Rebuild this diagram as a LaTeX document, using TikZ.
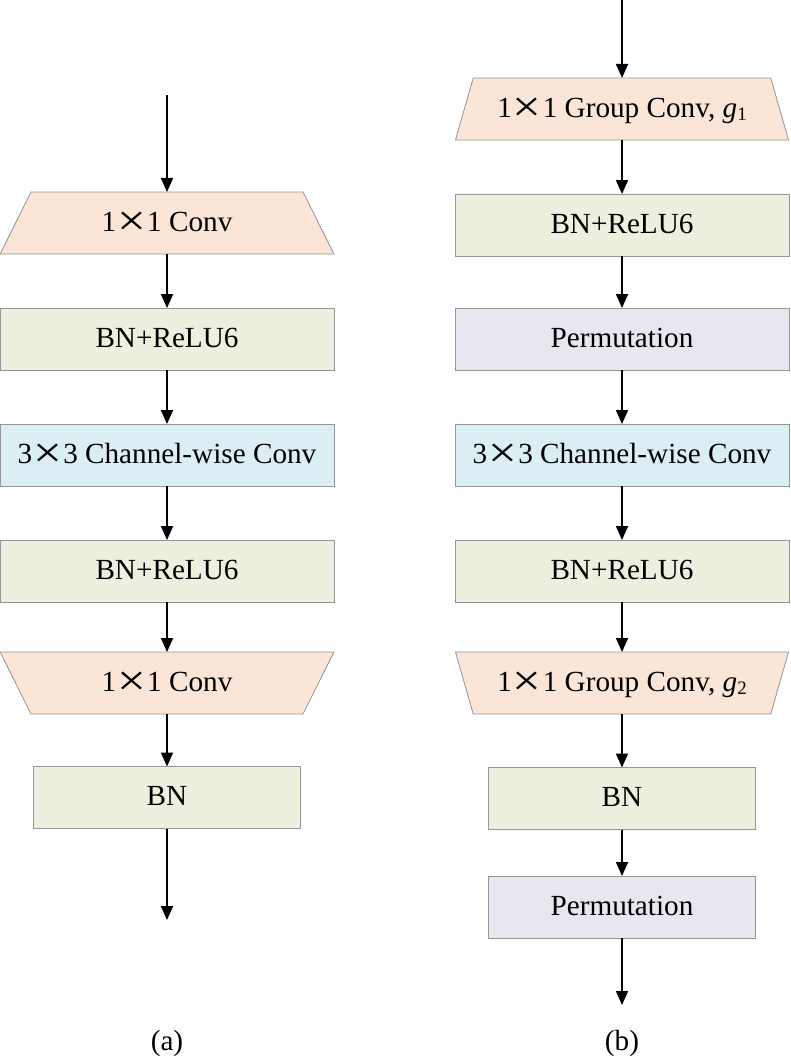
\documentclass[tikz,border=0pt]{standalone}
\usepackage{graphicx}
\usepackage{fontspec}
\setmainfont{Liberation Serif}
\usetikzlibrary{shapes.geometric,arrows.meta}
\definecolor{peach}{RGB}{251,229,214}
\definecolor{lgreen}{RGB}{235,241,222}
\definecolor{lblue}{RGB}{218,238,243}
\definecolor{lpurple}{RGB}{233,230,240}
\definecolor{bordergray}{RGB}{150,150,150}
\newcommand{\gsub}[1]{\textit{g}\raisebox{-0.28ex}{\fontsize{19}{20}\selectfont #1}}
\newcommand{\tms}{\makebox[31pt]{\smash{\raisebox{-4.5pt}{\scalebox{1.75}[1.5]{×}}}}}
\begin{document}
\begin{tikzpicture}[x=1pt,y=-1pt,
  every node/.style={font=\fontsize{29.2}{34}\selectfont, inner sep=0pt, outer sep=0pt,
     text height=22pt, text depth=6pt},
  blk/.style={draw=bordergray, line width=0.8pt, minimum height=62pt},
  wide/.style={blk, minimum width=334pt},
  narrow/.style={blk, minimum width=267pt},
  trap/.style={draw=bordergray, line width=0.8pt, fill=peach, trapezium, trapezium stretches=true,
     trapezium angle=62, minimum width=334pt, minimum height=62pt},
  trapinv/.style={trap, shape border rotate=180},
  arr/.style={line width=1.8pt, -{Triangle[length=14pt,width=12pt]}}
]
\useasboundingbox (0,0) rectangle (790,1060);
% left column
\coordinate (La) at (167,95);
\node[trap] (L1) at (167,223) {1\tms1 Conv};
\node[wide, fill=lgreen] (L2) at (167,339) {BN+ReLU6};
\node[wide, fill=lblue] (L3) at (167,455) {3\tms3 Channel-wise Conv};
\node[wide, fill=lgreen] (L4) at (167,571) {BN+ReLU6};
\node[trapinv] (L5) at (167,683) {1\tms1 Conv};
\node[narrow, fill=lgreen] (L6) at (167,797.5) {BN};
\coordinate (Lz) at (167,920);
\draw[arr] (La) -- (L1.north);
\draw[arr] (L1.south) -- (L2.north);
\draw[arr] (L2.south) -- (L3.north);
\draw[arr] (L3.south) -- (L4.north);
\draw[arr] (L4.south) -- (L5.north);
\draw[arr] (L5.south) -- (L6.north);
\draw[arr] (L6.south) -- (Lz);
\node (la) at (167,1042) {(a)};
% right column
\coordinate (Ra) at (622,0);
\node[trap] (R1) at (622,109) {1\tms1 Group Conv, \gsub{1}};
\node[wide, fill=lgreen] (R2) at (622,225) {BN+ReLU6};
\node[wide, fill=lpurple] (R3) at (622,339) {Permutation};
\node[wide, fill=lblue] (R4) at (622,455) {3\tms3 Channel-wise Conv};
\node[wide, fill=lgreen] (R5) at (622,571) {BN+ReLU6};
\node[trapinv] (R6) at (622,683) {1\tms1 Group Conv, \gsub{2}};
\node[narrow, fill=lgreen] (R7) at (622,798.5) {BN};
\node[narrow, fill=lpurple] (R8) at (622,907) {Permutation};
\coordinate (Rz) at (622,1005);
\draw[arr] (Ra) -- (R1.north);
\draw[arr] (R1.south) -- (R2.north);
\draw[arr] (R2.south) -- (R3.north);
\draw[arr] (R3.south) -- (R4.north);
\draw[arr] (R4.south) -- (R5.north);
\draw[arr] (R5.south) -- (R6.north);
\draw[arr] (R6.south) -- (R7.north);
\draw[arr] (R7.south) -- (R8.north);
\draw[arr] (R8.south) -- (Rz);
\node (lb) at (622,1042) {(b)};
\end{tikzpicture}
\end{document}
